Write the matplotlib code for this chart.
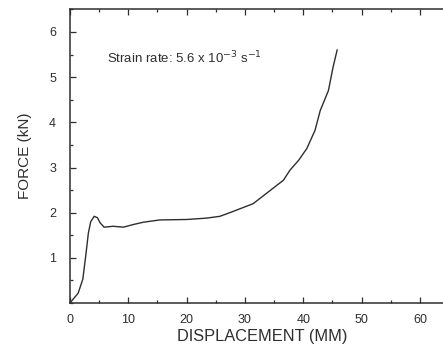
import matplotlib
matplotlib.use("Agg")
import matplotlib.pyplot as plt
from matplotlib.ticker import MultipleLocator

# force-displacement curve
displacement = [0.0, 0.3, 1.4, 2.2, 2.75, 3.15, 3.55, 4.15, 4.7, 5.15, 5.85, 7.4, 9.15,
                10.9, 12.6, 15.4, 20.0, 23.4, 25.7, 28.0, 31.4, 33.7, 36.6, 37.7,
                39.2, 40.6, 42.0, 42.9, 44.3, 45.1, 45.8]
force = [0.0, 0.05, 0.22, 0.53, 1.1, 1.55, 1.8, 1.92, 1.89, 1.78, 1.68, 1.7, 1.68,
         1.74, 1.79, 1.84, 1.85, 1.88, 1.92, 2.03, 2.2, 2.43, 2.72, 2.94,
         3.16, 3.42, 3.82, 4.26, 4.7, 5.22, 5.6]

x_ticks = [0, 10, 20, 30, 40, 50, 60]
y_ticks = [1, 2, 3, 4, 5, 6]

plt.rcParams['font.family'] = ['Liberation Sans', 'DejaVu Sans']
ink = "#2e2e2e"

fig = plt.figure(figsize=(4.43, 3.46), dpi=100)
# right spine sits just past the edge of the figure, as in the cropped scan
ax = fig.add_axes([0.158, 0.124, 0.869, 0.849])
ax.plot(displacement, force, color=ink, lw=1.0)

ax.set_xlim(0, 66)
ax.set_ylim(0, 6.5)
ax.set_xticks(x_ticks)
ax.set_yticks(y_ticks)
ax.xaxis.set_minor_locator(MultipleLocator(5))
ax.yaxis.set_minor_locator(MultipleLocator(0.5))
ax.tick_params(which="both", direction="in", top=True, right=True, colors=ink,
               labelsize=9, width=0.9)
ax.tick_params(which="major", length=4)
ax.tick_params(which="minor", length=2)
ax.tick_params(axis="x", pad=8)
ax.tick_params(axis="y", pad=10)
for s in ax.spines.values():
    s.set_color(ink)
    s.set_linewidth(1.1)

ax.set_xlabel("DISPLACEMENT (MM)", fontsize=11.8, color=ink, labelpad=2)
ax.set_ylabel("FORCE (kN)", fontsize=11, color=ink, labelpad=12)
ax.text(6.4, 5.42, r"Strain rate: 5.6 x 10$^{-3}$ s$^{-1}$", fontsize=9.5,
        color=ink, va="center")

fig.savefig("out.png", dpi=100)
